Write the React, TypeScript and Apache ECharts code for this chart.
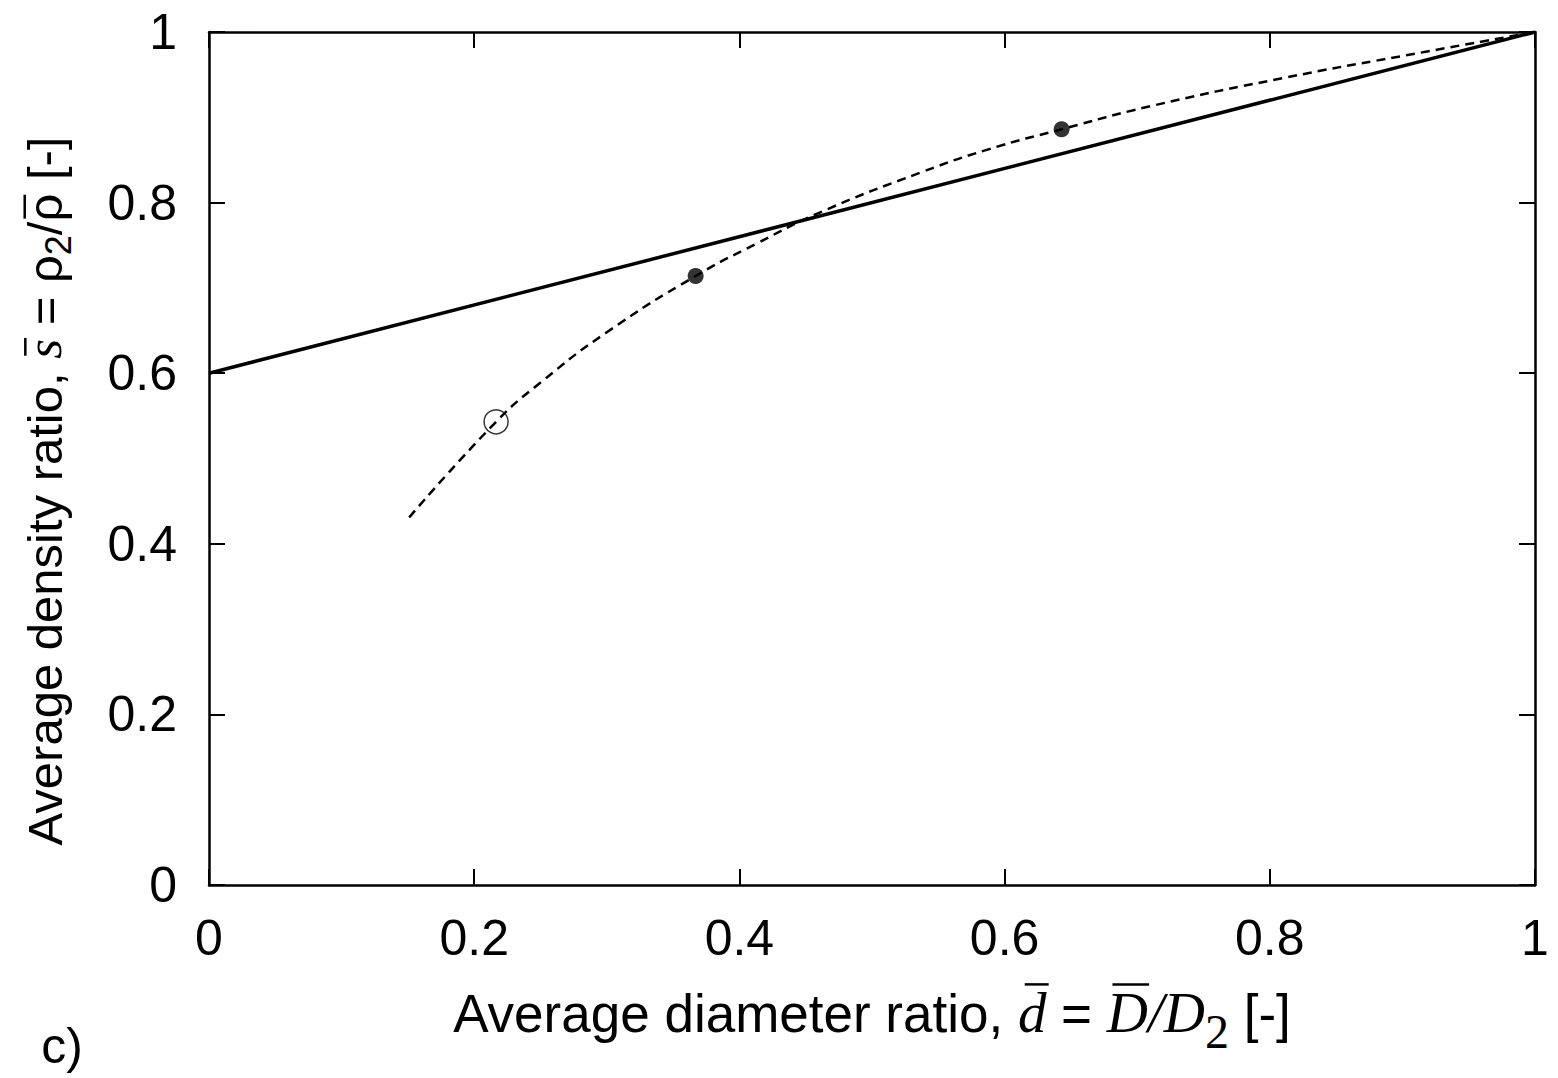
import React, { useEffect, useRef } from "react";
import * as echarts from "echarts";

const xTicks = [0, 0.2, 0.4, 0.6, 0.8, 1];
const solidLine: number[][] = [
  [0, 0.6],
  [1, 1],
];
const dashedX = [0.151, 0.2165, 0.25, 0.3, 0.367, 0.413, 0.463, 0.538, 0.589, 0.643, 0.71, 0.81, 0.911, 1.0];
const dashedY = [0.431, 0.543, 0.589, 0.648, 0.714, 0.752, 0.79, 0.836, 0.863, 0.886, 0.913, 0.946, 0.975, 1.0];
const filledPoints: number[][] = [
  [0.367, 0.714],
  [0.643, 0.886],
];
const openPoints: number[][] = [[0.2165, 0.543]];

const SANS = "'Liberation Sans', Arial, Helvetica, sans-serif";
const SERIF = "'Liberation Serif', 'DejaVu Serif', 'Times New Roman', serif";

type Frag = { t: string; fam: string; size: number; italic?: boolean; dy?: number; bar?: [number, number, number] };

function measure(text: string, fam: string, size: number, italic?: boolean) {
  const c = document.createElement("canvas").getContext("2d")!;
  c.font = `${italic ? "italic " : ""}${size}px ${fam}`;
  return c.measureText(text).width;
}

function layoutTitle(frags: Frag[]) {
  const widths = frags.map((f) => measure(f.t, f.fam, f.size, f.italic));
  const total = widths.reduce((a, b) => a + b, 0);
  let cur = -total / 2;
  const children: any[] = [];
  frags.forEach((f, i) => {
    children.push({
      type: "text",
      x: cur,
      y: -0.31 * f.size + (f.dy || 0),
      style: {
        text: f.t,
        fontFamily: f.fam,
        fontSize: f.size,
        fontStyle: f.italic ? "italic" : "normal",
        fill: "#000",
        align: "left",
        verticalAlign: "middle",
      },
    });
    if (f.bar) {
      const [s, e, h] = f.bar;
      children.push({
        type: "line",
        shape: { x1: cur + s * f.size, y1: -h * f.size, x2: cur + widths[i] + e * f.size, y2: -h * f.size },
        style: { stroke: "#000", lineWidth: 2.5 },
      });
    }
    cur += widths[i];
  });
  return children;
}

export default function App() {
  const ref = useRef<HTMLDivElement>(null);
  useEffect(() => {
    if (!ref.current) return;
    const chart = echarts.init(ref.current, null, { renderer: "svg" });
    const axisCommon = {
      type: "value" as const,
      min: 0,
      max: 1,
      interval: 0.2,
      splitLine: { show: false },
      axisLine: { show: true, onZero: false, lineStyle: { color: "#000", width: 2.5 } },
      axisTick: { show: true, inside: true, length: 16, lineStyle: { color: "#000", width: 2 } },
    };
    const labelStyle = { color: "#000", fontFamily: SANS, fontSize: 50 };

    const xTitle = layoutTitle([
      { t: "Average diameter ratio, ", fam: SANS, size: 53 },
      { t: "d", fam: SERIF, size: 57, italic: true, bar: [0.12, 0.04, 0.8] },
      { t: " = ", fam: SANS, size: 53 },
      { t: "D", fam: SERIF, size: 57, italic: true, bar: [0.1, 0.02, 0.8] },
      { t: "/", fam: SERIF, size: 57, italic: true },
      { t: "D", fam: SERIF, size: 57, italic: true },
      { t: "2", fam: SERIF, size: 48, dy: 16 },
      { t: " [-]", fam: SANS, size: 53 },
    ]);
    const yTitle = layoutTitle([
      { t: "Average density ratio, ", fam: SANS, size: 49 },
      { t: "s", fam: SERIF, size: 51, italic: true, bar: [0.06, 0.02, 0.68] },
      { t: " = \u03c1", fam: SANS, size: 49 },
      { t: "2", fam: SANS, size: 36, dy: 10 },
      { t: "/", fam: SANS, size: 49 },
      { t: "\u03c1", fam: SANS, size: 49, bar: [0.06, -0.02, 0.72] },
      { t: " [-]", fam: SANS, size: 49 },
    ]);

    chart.setOption({
      animation: false,
      backgroundColor: "#fff",
      grid: { left: 209, right: 23, top: 32, bottom: 193 },
      xAxis: [
        { ...axisCommon, position: "bottom", axisLabel: { ...labelStyle, margin: 28 } },
        { ...axisCommon, position: "top", axisLabel: { show: false } },
      ],
      yAxis: [
        { ...axisCommon, position: "left", axisLabel: { ...labelStyle, margin: 32 } },
        { ...axisCommon, position: "right", axisLabel: { show: false } },
      ],
      series: [
        {
          type: "line",
          data: solidLine,
          symbol: "none",
          lineStyle: { color: "#000", width: 3.5 },
          z: 3,
        },
        {
          type: "line",
          data: dashedX.map((x, i) => [x, dashedY[i]]),
          symbol: "none",
          smooth: true,
          lineStyle: { color: "#000", width: 2.5, type: [9, 6] },
          z: 2,
        },
        {
          type: "scatter",
          data: filledPoints,
          symbol: "circle",
          symbolSize: 16,
          itemStyle: { color: "#000" },
          z: 4,
        },
        {
          type: "scatter",
          data: openPoints,
          symbol: "circle",
          symbolSize: 24,
          itemStyle: { color: "rgba(0,0,0,0)", borderColor: "#000", borderWidth: 1.5 },
          z: 4,
        },
      ],
      graphic: [
        { type: "group", x: 872, y: 1030, children: xTitle },
        { type: "group", x: 60, y: 491, rotation: Math.PI / 2, children: yTitle },
        {
          type: "text",
          x: 62,
          y: 1046,
          style: { text: "c)", fontFamily: SANS, fontSize: 50, fill: "#000", align: "center", verticalAlign: "middle" },
        },
      ],
    });
    return () => chart.dispose();
  }, []);
  return <div ref={ref} style={{ position: "fixed", left: 0, top: 0, width: 1558, height: 1078 }} />;
}
